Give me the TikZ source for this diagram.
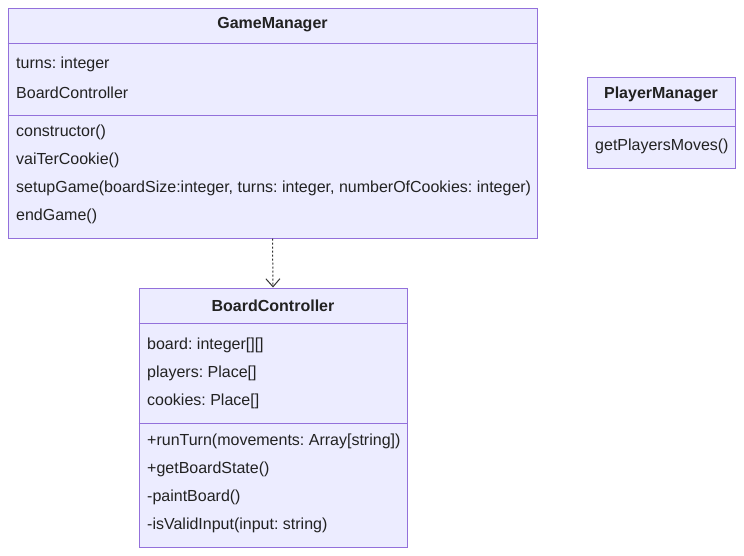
\documentclass[tikz,border=0pt]{standalone}
\usepackage{fontspec}
\setmainfont{Liberation Sans}
\frenchspacing
\usetikzlibrary{arrows.meta,positioning}

\definecolor{classfill}{HTML}{ECECFF}
\definecolor{classline}{HTML}{9370DB}
\definecolor{textcol}{HTML}{222222}
\definecolor{arrowcol}{HTML}{333333}

\tikzset{
    classbox/.style={draw=classline, fill=classfill, line width=1pt, inner sep=0pt},
    member/.style={anchor=west, inner sep=0pt, text=textcol, font=\fontsize{16}{19}\selectfont},
    classtitle/.style={inner sep=0pt, text=textcol, font=\fontsize{16}{19}\selectfont\bfseries},
    divider/.style={draw=classline, line width=1pt},
}

\begin{document}
\begin{tikzpicture}[x=1pt, y=-1pt]
    \useasboundingbox (0,0) rectangle (744,555);

    % GameManager box
    \node[classbox, minimum width=529pt, minimum height=230pt] (gm) at (272.5,123) {};
    \node[classtitle] (gmtitle) at (272.5,24.5) {GameManager};
    \draw[divider] ([yshift=-36pt]gm.north west) -- ([yshift=-36pt]gm.north east);
    \draw[divider] ([yshift=-108pt]gm.north west) -- ([yshift=-108pt]gm.north east);
    \node[member] (gmturns) at (16,64.5) {turns: integer};
    \node[member] (gmboard) at (16,92.5) {BoardController};
    \node[member] (gmctor) at (16,132.5) {constructor()};
    \node[member] (gmcookie) at (16,160.5) {vaiTerCookie()};
    \node[member] (gmsetup) at (16,188.5) {setupGame(boardSize:integer, turns: integer, numberOfCookies: integer)};
    \node[member] (gmend) at (16,216.5) {endGame()};

    % PlayerManager box
    \node[classbox, minimum width=148pt, minimum height=91pt] (pm) at (661,122.5) {};
    \node[classtitle] (pmtitle) at (661,94.5) {PlayerManager};
    \draw[divider] ([yshift=-33pt]pm.north west) -- ([yshift=-33pt]pm.north east);
    \draw[divider] ([yshift=-50pt]pm.north west) -- ([yshift=-50pt]pm.north east);
    \node[member] (pmmoves) at (595,146.5) {getPlayersMoves()};

    % BoardController box
    \node[classbox, minimum width=268pt, minimum height=259pt] (bc) at (273,417.5) {};
    \node[classtitle] (bctitle) at (273,305.5) {BoardController};
    \draw[divider] ([yshift=-36pt]bc.north west) -- ([yshift=-36pt]bc.north east);
    \draw[divider] ([yshift=-136pt]bc.north west) -- ([yshift=-136pt]bc.north east);
    \node[member] (bcboard) at (147,345.5) {board: integer[][]};
    \node[member] (bcplayers) at (147,373.5) {players: Place[]};
    \node[member] (bccookies) at (147,401.5) {cookies: Place[]};
    \node[member] (bcturn) at (147,441.5) {+runTurn(movements: Array[string])};
    \node[member] (bcstate) at (147,469.5) {+getBoardState()};
    \node[member] (bcpaint) at (147,497.5) {-paintBoard()};
    \node[member] (bcvalid) at (147,525.5) {-isValidInput(input: string)};

    % dependency
    \draw[arrowcol, line width=1pt, dash pattern=on 2pt off 2pt, -{Straight Barb[length=8pt, width=14pt]}] (gm.south) -- (bc.north);
\end{tikzpicture}
\end{document}
